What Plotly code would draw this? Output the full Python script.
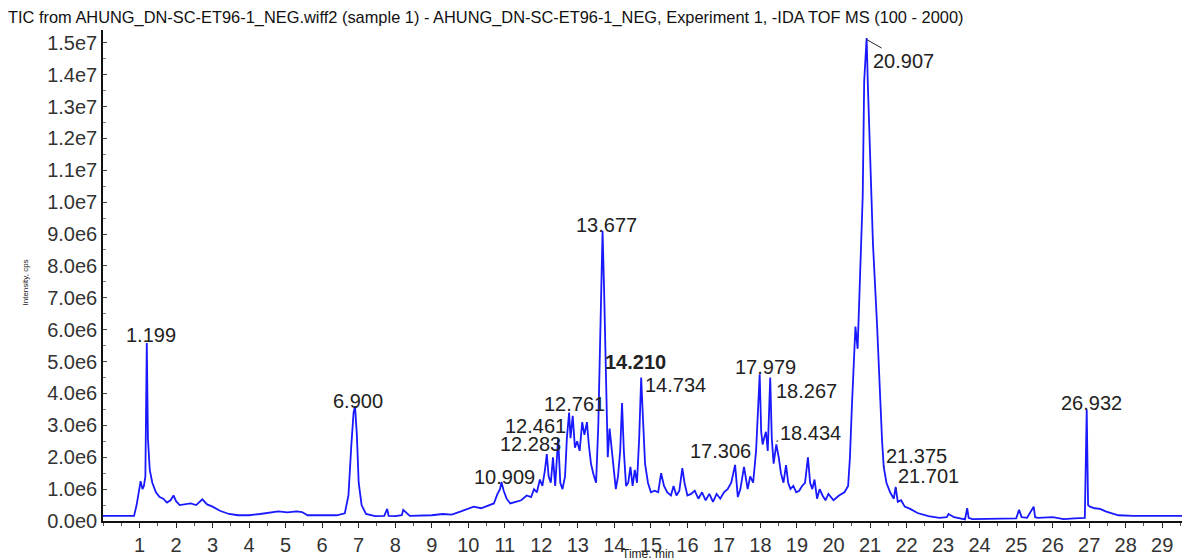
import plotly.graph_objects as go

# ---- data (time in min, intensity in 1e6 cps) ----
time_min = [
    0.00, 0.30, 0.60, 0.85, 0.92, 0.98, 1.03, 1.08, 1.12, 1.16,
    1.199, 1.23, 1.28, 1.35, 1.45, 1.55, 1.65, 1.75, 1.85, 1.93,
    2.00, 2.10, 2.25, 2.40, 2.55, 2.65, 2.72, 2.85, 3.00, 3.20,
    3.45, 3.70, 4.00, 4.30, 4.55, 4.80, 5.05, 5.30, 5.45, 5.60,
    6.00, 6.40, 6.62, 6.72, 6.80, 6.86, 6.90, 6.95, 7.00, 7.08,
    7.20, 7.45, 7.70, 7.78, 7.82, 8.00, 8.18, 8.22, 8.40, 8.70,
    9.00, 9.30, 9.55, 9.80, 10.00, 10.15, 10.35, 10.55, 10.70, 10.80,
    10.87, 10.909, 10.97, 11.05, 11.15, 11.30, 11.45, 11.60, 11.72, 11.80,
    11.88, 11.96, 12.03, 12.10, 12.15, 12.20, 12.26, 12.32, 12.38, 12.461,
    12.52, 12.58, 12.65, 12.70, 12.761, 12.80, 12.86, 12.92, 12.98, 13.05,
    13.12, 13.18, 13.25, 13.30, 13.36, 13.42, 13.50, 13.56, 13.62, 13.677,
    13.72, 13.77, 13.82, 13.87, 13.92, 13.98, 14.04, 14.10, 14.16, 14.21,
    14.26, 14.32, 14.38, 14.44, 14.50, 14.56, 14.62, 14.68, 14.734, 14.78,
    14.84, 14.92, 15.00, 15.10, 15.20, 15.28, 15.36, 15.45, 15.55, 15.62,
    15.70, 15.78, 15.86, 15.92, 16.00, 16.10, 16.20, 16.30, 16.40, 16.50,
    16.60, 16.70, 16.80, 16.90, 17.00, 17.10, 17.20, 17.306, 17.38, 17.45,
    17.55, 17.65, 17.72, 17.80, 17.88, 17.93, 17.979, 18.02, 18.06, 18.10,
    18.15, 18.20, 18.267, 18.31, 18.36, 18.434, 18.50, 18.56, 18.63, 18.70,
    18.76, 18.82, 18.90, 18.98, 19.06, 19.14, 19.22, 19.30, 19.36, 19.42,
    19.48, 19.55, 19.62, 19.70, 19.78, 19.86, 20.00, 20.15, 20.30, 20.40,
    20.45, 20.50, 20.55, 20.60, 20.66, 20.72, 20.80, 20.84, 20.907, 20.94,
    21.02, 21.08, 21.19, 21.27, 21.33, 21.375, 21.45, 21.55, 21.65, 21.701,
    21.76, 21.85, 21.95, 22.10, 22.30, 22.60, 22.90, 23.10, 23.15, 23.30,
    23.60, 23.66, 23.70, 23.80, 24.20, 24.80, 25.00, 25.08, 25.15, 25.30,
    25.48, 25.52, 25.60, 26.00, 26.30, 26.60, 26.88, 26.932, 26.97, 27.02,
    27.15, 27.30, 27.45, 27.60, 27.80, 28.20, 28.80, 29.30, 29.80,
]
intensity_e6 = [
    0.16, 0.16, 0.15, 0.16, 0.50, 1.00, 1.25, 1.00, 1.10, 1.40,
    5.58, 2.60, 1.60, 1.20, 0.90, 0.75, 0.70, 0.58, 0.65, 0.80,
    0.62, 0.50, 0.52, 0.55, 0.50, 0.60, 0.68, 0.52, 0.45, 0.32,
    0.22, 0.18, 0.18, 0.22, 0.26, 0.30, 0.27, 0.30, 0.28, 0.18,
    0.18, 0.18, 0.24, 0.80, 2.40, 3.40, 3.60, 2.70, 1.20, 0.50,
    0.22, 0.15, 0.16, 0.38, 0.16, 0.15, 0.18, 0.35, 0.16, 0.16,
    0.18, 0.22, 0.20, 0.30, 0.38, 0.45, 0.40, 0.50, 0.55, 0.85,
    1.00, 1.22, 0.95, 0.70, 0.55, 0.60, 0.65, 0.80, 0.75, 1.00,
    0.90, 1.30, 1.10, 1.60, 2.10, 1.40, 1.20, 2.00, 1.10, 2.60,
    1.20, 1.00, 1.40, 2.60, 3.40, 2.60, 3.30, 2.30, 2.50, 2.20,
    3.10, 2.70, 3.10, 2.40, 1.80, 1.50, 1.20, 3.00, 6.70, 9.10,
    7.20, 4.00, 2.00, 2.90, 2.30, 1.50, 1.00, 1.40, 2.20, 3.70,
    2.20, 1.10, 1.20, 1.70, 1.10, 1.60, 1.20, 2.60, 4.50, 3.30,
    1.80, 1.20, 0.90, 0.95, 0.90, 1.50, 1.10, 0.90, 0.80, 1.10,
    0.80, 0.95, 1.66, 1.20, 0.80, 0.85, 0.95, 0.70, 0.90, 0.65,
    0.85, 0.60, 0.85, 0.70, 0.90, 1.00, 1.20, 1.76, 0.75, 1.00,
    1.70, 1.00, 1.40, 1.20, 2.20, 3.40, 4.60, 2.80, 2.40, 2.60,
    2.80, 2.20, 4.50, 2.60, 1.80, 2.40, 2.00, 1.50, 1.20, 1.75,
    1.20, 1.00, 1.10, 0.90, 0.95, 1.10, 1.20, 2.00, 1.20, 1.00,
    1.30, 0.70, 1.00, 0.80, 0.65, 0.85, 0.65, 0.80, 0.90, 1.10,
    2.00, 3.50, 5.00, 6.10, 5.40, 7.50, 10.20, 13.80, 15.15, 13.70,
    11.00, 8.70, 6.20, 3.90, 2.50, 1.70, 1.20, 0.90, 0.70, 1.07,
    0.60, 0.65, 0.45, 0.38, 0.25, 0.15, 0.10, 0.12, 0.22, 0.12,
    0.05, 0.40, 0.10, 0.06, 0.06, 0.08, 0.08, 0.35, 0.12, 0.10,
    0.45, 0.12, 0.10, 0.12, 0.06, 0.08, 0.10, 3.50, 0.50, 0.45,
    0.40, 0.38, 0.30, 0.25, 0.18, 0.16, 0.16, 0.14, 0.16,
]
assert len(time_min) == len(intensity_e6)

peak_labels = ["1.199", "6.900", "10.909", "12.283", "12.461", "12.761", "13.677", "14.210",
               "14.734", "17.306", "17.979", "18.267", "18.434", "20.907", "21.375", "21.701",
               "26.932"]
peak_heights_e6 = [5.58, 3.60, 1.22, 2.00, 2.60, 3.40, 9.10, 3.80, 4.50, 1.90, 4.60, 4.60,
                   2.50, 15.10, 1.70, 1.00, 3.50]
# label offsets in px (dx right, dy up) and whether a leader line is drawn
label_dx = [4, 3, 3, -21, -23, 5, 4, 13, 34, -15, 6, 36, 34, 37, 33, 33, 5]
label_dy = [8, 5, 5, 13, 12, 9, 6, 38, -7, 9, 7, -17, 8, -21, 11, 13, 6]
label_leader = [False, False, False, False, False, False, False, False, False, False, False,
                False, True, True, True, True, False]
label_bold = [False] * 7 + [True] + [False] * 9

y_tickvals = [i * 1e6 for i in range(16)]
y_ticktext = ["0.0e0", "1.0e6", "2.0e6", "3.0e6", "4.0e6", "5.0e6", "6.0e6", "7.0e6", "8.0e6",
              "9.0e6", "1.0e7", "1.1e7", "1.2e7", "1.3e7", "1.4e7", "1.5e7"]
x_tickvals = list(range(1, 30))

title_text = ("TIC from AHUNG_DN-SC-ET96-1_NEG.wiff2 (sample 1) - AHUNG_DN-SC-ET96-1_NEG, "
              "Experiment 1, -IDA TOF MS (100 - 2000)")

intensity = [v * 1e6 for v in intensity_e6]

# the page body adds an 8px offset, so the figure is 8px smaller each way
W, H = 1182, 550
ML, MT, MB = 95, 22, 37
PLOT_W = W - ML
PLOT_H = H - MT - MB

fig = go.Figure()
fig.add_trace(go.Scatter(x=time_min, y=intensity, mode="lines",
                         line=dict(color="rgb(25,25,255)", width=1.8), hoverinfo="skip"))

font_family = "Liberation Sans, Arial, sans-serif"
for lab, h, dx, dy, lead, bold in zip(peak_labels, peak_heights_e6, label_dx, label_dy,
                                      label_leader, label_bold):
    t = float(lab)
    txt = f"<b>{lab}</b>" if bold else lab
    if lead:
        fig.add_annotation(x=t, y=h * 1e6, xref="x", yref="y", text=txt, showarrow=True,
                           arrowhead=0, arrowwidth=1, arrowcolor="#222", ax=dx, ay=-dy,
                           font=dict(family=font_family, size=20, color="#222"))
    else:
        fig.add_annotation(x=t, y=h * 1e6, xref="x", yref="y", text=txt, showarrow=False,
                           xshift=dx, yshift=dy, xanchor="center", yanchor="middle",
                           font=dict(family=font_family, size=20, color="#222"))

fig.add_annotation(text="Intensity, cps", xref="paper", yref="paper",
                   x=-85 / PLOT_W, y=239 / PLOT_H, textangle=-90, showarrow=False,
                   font=dict(family=font_family, size=8, color="#222"))
fig.add_annotation(text="Time, min", xref="paper", yref="paper",
                   x=545 / PLOT_W, y=-33 / PLOT_H, showarrow=False,
                   yanchor="middle", font=dict(family=font_family, size=12, color="#222"))

fig.update_layout(
    width=W, height=H,
    margin=dict(l=ML, r=0, t=MT, b=MB, autoexpand=False),
    paper_bgcolor="white", plot_bgcolor="white",
    showlegend=False,
    title=dict(text=title_text, x=0, xanchor="left", xref="container",
               y=1 - 9 / H, yanchor="middle", yref="container", automargin=False,
               font=dict(family=font_family, size=16.4, color="#111")),
    xaxis=dict(range=[0, 29.76], tickvals=x_tickvals, ticks="outside", ticklen=5,
               tickcolor="#222", showline=True, linecolor="#111", linewidth=2,
               showgrid=False, zeroline=False, fixedrange=True, automargin=False,
               tickfont=dict(family=font_family, size=20, color="#333"),
               minor=dict(dtick=0.5, tick0=0, ticks="outside", ticklen=3, tickcolor="#555")),
    yaxis=dict(range=[0, 15.4e6], tickvals=y_tickvals, ticktext=y_ticktext,
               ticks="inside", ticklen=4, tickcolor="#444",
               showline=True, linecolor="#111", linewidth=1.5,
               showgrid=False, zeroline=False, fixedrange=True, automargin=False,
               tickfont=dict(family=font_family, size=20, color="#333"),
               minor=dict(dtick=0.5e6, tick0=0, ticks="inside", ticklen=3, tickcolor="#777")),
)

fig.write_html("out.html")
